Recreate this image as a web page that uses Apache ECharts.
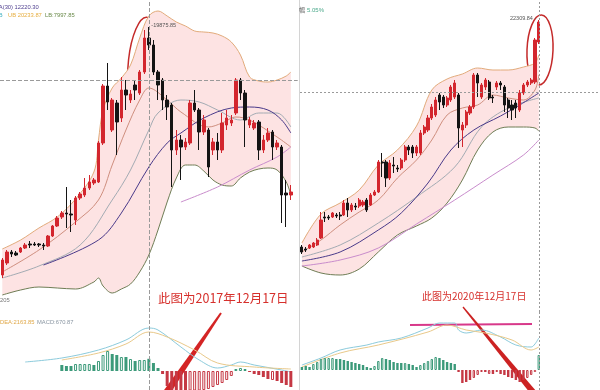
<!DOCTYPE html>
<html><head><meta charset="utf-8">
<script src="https://cdn.jsdelivr.net/npm/echarts@6/dist/echarts.min.js"></script>
<style>html,body{margin:0;padding:0;background:#fff}#c{width:600px;height:390px}</style>
</head><body><div id="c"></div>
<script>
// ---------- LEFT PANEL (2017) : [open, close, low, high] ----------
const leftCandles = [
[5000,5900,4820,6020],[5720,6380,5600,6500],[6380,6260,6080,6500],[6320,6200,6140,6440],
[6380,6620,6320,6680],[6620,6800,6560,6920],[6860,6800,6620,7040],[6860,6800,6740,6980],
[6860,6800,6680,6920],[6800,6740,6500,6920],[6740,7340,6680,7400],[7340,7940,7280,8000],
[7940,8420,7880,8540],[8480,8720,8360,8840],[8720,8660,7820,10280],[8660,8600,7580,9500],
[8300,9620,8000,9740],[9620,9860,9500,9980],[9800,10220,9680,10820],[10220,10580,10100,11000],
[10520,10700,10400,10820],[10580,12920,10520,13040],[12920,16340,12800,16460],[16340,15380,14900,17720],
[13700,15500,13580,15620],[15320,14180,12200,15500],[14420,16100,14180,16880],[16100,15800,14900,16700],
[15500,15860,15320,16100],[16400,16100,15500,16700],[15920,17180,15800,17300],[17180,19220,17060,19700],
[19220,18800,18500,19880],[18800,17180,17000,19100],[17180,16400,15500,17300],[16700,15500,14900,16820],
[15500,15080,14300,15800],[15200,12500,10280,15320],[12500,13100,12200,13700],[13100,12680,10700,13400],
[12680,12980,12500,13220],[12920,15320,12800,15500],[15320,14900,14780,16100],[14900,13580,12500,15020],
[13580,14300,13400,14600],[13700,11480,10880,13820],[12500,12980,12200,13220],[12980,12500,11900,13520],
[12500,14120,12320,14720],[14000,14420,13700,14900],[14120,14300,13940,14600],[14720,16700,14600,16820],
[16700,15920,15500,16820],[15920,14300,12680,16100],[14000,14300,13820,14480],[13820,14120,13700,14300],
[14180,12500,11900,14300],[12500,13100,12320,13400],[13100,13520,12980,13820],[13580,12680,11900,13700],
[12680,12920,12500,13100],[12680,9800,8120,12800],[9920,9800,7880,10700],[9800,9980,9500,10400]
];
const leftBandIdx = [0,4,8,12,16,20,21,22,24,26,28,30,32,34,36,38,40,42,44,46,48,50,52,54,56,58,60,62,63];
const leftUpper = [6560,7100,7820,8480,9560,11180,13100,14900,16220,16820,17600,19220,20540,20840,20540,20180,19940,19640,19580,19520,19340,18980,18200,16880,16640,16580,16700,16940,17180];
const leftLower = [3800,4100,4280,4220,4160,4580,4820,4340,3920,4160,4460,5180,6200,7700,9380,10820,11600,11600,11240,10700,10400,10340,10820,11180,11360,11420,11300,10580,9800];
const leftTanIdx = [0,8,16,21,24,27,30,32,36,39,45,48,51,54,60,63];
const leftTan = [5180,6500,8180,9500,11600,13700,15500,16220,15500,14780,13880,14120,14480,14300,13280,12680];
const leftGrayIdx = [0,8,17,24,28,32,34,39,43,47,52,56,60,63];
const leftGray = [4820,5540,6800,9500,11300,13700,14720,15500,15380,14900,14300,14720,14720,13880];
const leftPurpleIdx = [9,21,26,32,36,39,44,50,54,58,61,63];
const leftPurple = [5600,7100,8720,11480,12920,13520,14420,15020,15080,14900,14300,13520];
const leftPinkIdx = [39,47,54,60,63];
const leftPink = [9380,10280,11300,12080,12680];
const leftHist = [0,0,0,0,0,0,0,0,0,0,0,0,0,
330,275,275,385,385,385,385,330,550,880,
1100,935,880,770,770,660,550,605,605,671,
440,165,-165,-825,-1210,-1320,-1320,-1210,-1210,-1155,
-1100,-1045,-990,-880,-770,-660,-495,-275,110,165,
110,-55,-165,-220,-330,-440,-495,-550,-660,-770,-880];
const leftHollow = [16,17,18,19,21,22,23,26,28,30,31,41,42,43,44,45,46,47,48,49,50,51,52,53,59];
const leftDifIdx = [5,13,21,27,32,34,39,43,47,50,52,55,61,63];
const leftDif = [495,715,1155,1705,2365,2255,1320,605,165,330,495,330,55,-55];
const leftDeaIdx = [13,21,27,32,36,42,47,55,63];
const leftDea = [605,990,1485,2145,1870,1155,440,220,110];
const leftPeakIndex = 32, leftPeakHigh = 19875.85, leftCrossPrice = 16700;

// ---------- RIGHT PANEL (2020) ----------
const rightCandles = [
[10950,10700,10600,11050],[10850,10800,10700,10950],[10900,11050,10850,11100],[10950,11150,10900,11200],
[11050,11300,11000,11400],[11400,12300,11350,12700],[12450,12400,12200,12700],[12450,12400,12300,12550],
[12450,12650,12400,12700],[12550,12500,12400,12650],[12550,12500,12300,12700],[12550,13150,12500,13300],
[13150,12800,12450,13400],[12800,13050,12700,13150],[13000,12950,12800,13150],[13000,13300,12900,13400],
[13050,13200,12950,13300],[13300,12800,12700,13400],[13050,13550,13000,13650],[13550,13700,13500,13800],
[13700,15200,13650,15300],[15200,15150,14450,15650],[15200,14400,13950,15300],[14400,15150,14300,15300],
[15050,15000,14650,15450],[14900,14850,14700,15050],[14900,15300,14800,15400],[15300,15950,15200,16050],
[15950,15800,15550,16050],[15950,15650,15400,16050],[15650,15950,15500,16050],[15650,16650,15550,16800],
[16650,16950,16550,17050],[16800,17400,16700,17550],[17400,17950,17300,18100],[17550,18300,17450,18450],
[18550,18200,17800,18650],[18450,18050,17900,18550],[18050,18400,17950,18500],[18300,18950,18200,19050],
[18450,19150,18350,19300],[18550,16900,15900,18650],[16800,17050,15950,17200],[17050,17700,16900,17800],
[17650,17950,17550,18050],[17950,19550,17850,19650],[19550,19150,18450,19650],[18450,19050,18350,19150],
[18950,19300,18800,19400],[19200,18400,18300,19300],[18450,18400,18150,18550],[18950,19150,18800,19250],
[19150,19050,18800,19250],[18950,18050,17700,19050],[18300,17900,17400,18400],[18050,17800,17300,18300],
[18150,17900,17400,18300],[17800,18650,17700,18800],[18650,19050,18550,19150],[19050,19200,18950,19300],
[19150,19300,19050,19400],[19200,21300,19100,21400],[21200,22200,21100,22300]
];
const rightBandIdx = [0,5,10,15,20,25,30,34,38,42,46,50,54,58,61,62];
const rightUpper = [11150,12600,13150,13800,15050,15800,17000,18800,19350,19600,19900,19800,19800,19950,20150,20550];
const rightLower = [10000,9650,9550,9850,10700,11550,12000,12400,13150,14300,15800,16700,16950,16950,16900,16750];
const rightTanIdx = [0,5,10,15,20,25,30,34,38,42,46,50,54,58,61,62];
const rightTan = [10700,11300,12050,12700,13300,14400,15300,16300,17550,17900,18050,18550,18400,18300,18800,19550];
const rightGrayIdx = [0,10,20,30,40,47,54,62];
const rightGray = [10450,11050,12150,13450,14950,16950,17900,18400];
const rightPurpleIdx = [0,10,20,26,33,39,45,52,57,62];
const rightPurple = [10250,10700,11800,12650,14150,15800,16800,17500,18050,18650];
const rightPinkIdx = [0,10,20,30,40,50,58,62];
const rightPink = [10000,10300,10900,12100,13300,14550,15550,16300];
const rightHist = [150,200,150,300,400,550,600,600,600,550,
550,500,450,400,350,300,250,150,100,200,
450,600,550,500,400,350,350,350,300,250,
150,250,350,450,550,650,600,500,400,350,
300,-100,-650,-600,-500,-400,-250,-100,-100,-200,
-200,-100,-200,-250,-350,-400,-500,-600,-500,-400,
-250,-100,750];
const rightHollow = [3,4,5,6,7,8,19,20,21,27,31,32,33,34,35,45,46,47,49,51,59,60,61,62];
const rightDifIdx = [0,5,10,17,20,26,33,36,40,41,43,47,52,56,60,61,62];
const rightDif = [250,600,1000,1250,1400,1600,2100,2350,2350,2000,1850,2000,1650,1250,1150,1300,1600];
const rightDeaIdx = [0,10,20,33,38,43,48,55,60,62];
const rightDea = [150,850,1250,1900,2250,2000,1850,1500,1000,1150];
const rightPeakIndex = 62, rightPeakHigh = 22309.84, rightCrossPrice = 18700;

// ---------- build ----------
const leftCats = leftCandles.map((_, i) => 'L' + i).concat(['']);
const rightCats = rightCandles.map((_, i) => 'R' + i);
for (let k = 0; k < 15; k++) rightCats.push('');

const pairs = (idx, vals) => idx.map((x, k) => [x, vals[k]]);
const GREEN = '#3c9a7a', RED = '#c53844';
function hist(vals, hollow) {
  return vals.map((v, i) => {
    const c = v >= 0 ? GREEN : RED;
    return { value: v, itemStyle: hollow.includes(i) ? { color: '#fff', borderColor: c, borderWidth: 1 } : { color: c } };
  });
}
function line(xi, data, color, z, w) {
  return { type: 'line', xAxisIndex: xi, yAxisIndex: xi, data, symbol: 'none', smooth: 0.35,
    lineStyle: { color, width: w || 1 }, z: z || 2, silent: true };
}
function bandSeries(xi, idx, up, lo, stackName) {
  return [
    { type: 'line', xAxisIndex: xi, yAxisIndex: xi, data: pairs(idx, lo), stack: stackName, symbol: 'none',
      smooth: 0.35, lineStyle: { opacity: 0 }, z: 1, silent: true },
    { type: 'line', xAxisIndex: xi, yAxisIndex: xi, data: pairs(idx, up.map((v, k) => v - lo[k])), stack: stackName,
      symbol: 'none', smooth: 0.35, lineStyle: { opacity: 0 }, areaStyle: { color: '#fde3e3', opacity: 1 }, z: 1, silent: true },
    line(xi, pairs(idx, up), '#e2ab7b', 2),
    line(xi, pairs(idx, lo), '#6f7d55', 2)
  ];
}
const candleStyle = { color: '#d3262e', color0: '#141414', borderColor: '#d3262e', borderColor0: '#141414', borderWidth: 1 };
const dash = { type: 'dashed', color: '#9a9a9a', width: 1 };
const tiny = (t, x, y, fill, size) => ({ type: 'text', x, y, silent: true,
  style: { text: t, fill, font: (size || 5.8) + 'px "Liberation Sans", Arial, sans-serif', verticalAlign: 'middle', textVerticalAlign: 'middle' } });

const hiddenX = (gi, data) => ({ type: 'category', gridIndex: gi, data, boundaryGap: true,
  axisLine: { show: false }, axisTick: { show: false }, axisLabel: { show: false }, splitLine: { show: false } });
const hiddenY = (gi, min, max) => ({ type: 'value', gridIndex: gi, min, max,
  axisLine: { show: false }, axisTick: { show: false }, axisLabel: { show: false }, splitLine: { show: false } });

const option = {
  animation: false,
  backgroundColor: '#fff',
  grid: [
    { left: 0, top: 0, width: 297.7, height: 312 },
    { left: 0, top: 312, width: 297.7, height: 78 },
    { left: 300, top: 0, width: 298, height: 312 },
    { left: 300, top: 312, width: 298, height: 78 }
  ],
  xAxis: [hiddenX(0, leftCats), hiddenX(1, leftCats), hiddenX(2, rightCats), hiddenX(3, rightCats)],
  yAxis: [hiddenY(0, 2780, 21500), hiddenY(1, -1045, 3245), hiddenY(2, 7700, 23300), hiddenY(3, -1000, 2900)],
  series: [
    ...bandSeries(0, leftBandIdx, leftUpper, leftLower, 'lb'),
    line(0, pairs(leftTanIdx, leftTan), '#cf8f7f'),
    line(0, pairs(leftGrayIdx, leftGray), '#a3abb3'),
    line(0, pairs(leftPurpleIdx, leftPurple), '#4a3a8a'),
    line(0, pairs(leftPinkIdx, leftPink), '#c98ccc'),
    { type: 'candlestick', xAxisIndex: 0, yAxisIndex: 0, data: leftCandles, barWidth: 3, itemStyle: candleStyle, z: 3, silent: true,
      markLine: { symbol: 'none', silent: true, label: { show: false }, lineStyle: dash,
        data: [{ xAxis: leftPeakIndex }, { yAxis: leftCrossPrice }] },
      markPoint: { symbol: 'circle', symbolSize: 1, itemStyle: { color: 'rgba(0,0,0,0)' }, silent: true,
        data: [{ coord: [leftPeakIndex, leftPeakHigh], label: { show: true, position: 'right', distance: 2, offset: [0, -2],
          formatter: '-' + leftPeakHigh.toFixed(2), fontSize: 5.5, color: '#555', fontFamily: 'Liberation Sans' } }] } },
    { type: 'bar', xAxisIndex: 1, yAxisIndex: 1, data: hist(leftHist, leftHollow), barWidth: 3, z: 3, silent: true,
      markLine: { symbol: 'none', silent: true, label: { show: false }, lineStyle: dash, data: [{ xAxis: leftPeakIndex }] } },
    line(1, pairs(leftDifIdx, leftDif), '#8ccbdc'),
    line(1, pairs(leftDeaIdx, leftDea), '#e9c98a'),

    ...bandSeries(2, rightBandIdx, rightUpper, rightLower, 'rb'),
    line(2, pairs(rightTanIdx, rightTan), '#cf8f7f'),
    line(2, pairs(rightGrayIdx, rightGray), '#a3abb3'),
    line(2, pairs(rightPurpleIdx, rightPurple), '#4a3a8a'),
    line(2, pairs(rightPinkIdx, rightPink), '#c98ccc'),
    { type: 'candlestick', xAxisIndex: 2, yAxisIndex: 2, data: rightCandles, barWidth: 2.6, itemStyle: candleStyle, z: 3, silent: true,
      markLine: { symbol: 'none', silent: true, label: { show: false }, lineStyle: { type: [2, 2], color: '#9a9a9a', width: 1 },
        data: [{ xAxis: rightPeakIndex }, { yAxis: rightCrossPrice }] },
      markPoint: { symbol: 'circle', symbolSize: 1, itemStyle: { color: 'rgba(0,0,0,0)' }, silent: true,
        data: [{ coord: [rightPeakIndex, rightPeakHigh], label: { show: true, position: 'left', distance: 2, offset: [0, -1],
          formatter: rightPeakHigh.toFixed(2) + ' -', fontSize: 5.5, color: '#555', fontFamily: 'Liberation Sans' } }] } },
    { type: 'bar', xAxisIndex: 3, yAxisIndex: 3, data: hist(rightHist, rightHollow), barWidth: 2.4, z: 3, silent: true,
      markLine: { symbol: 'none', silent: true, label: { show: false }, lineStyle: { type: [2, 2], color: '#9a9a9a', width: 1 },
        data: [{ xAxis: rightPeakIndex }] } },
    line(3, pairs(rightDifIdx, rightDif), '#8ccbdc'),
    line(3, pairs(rightDeaIdx, rightDea), '#e9c98a')
  ],
  graphic: [
    { type: 'line', silent: true, shape: { x1: 299.5, y1: 0, x2: 299.5, y2: 390 }, style: { stroke: '#d4d4d4', lineWidth: 1 } },
    tiny('MA(30) 12220.30', -6, 7, '#4f3f8f'),
    tiny('MB', -6, 15, '#3fb0c0'),
    tiny('UB 20233.87', 8, 15, '#e6ae40'),
    tiny('LB:7997.85', 45, 15, '#6a8a4a'),
    tiny('205', 0, 300, '#777'),
    tiny('DEA:2163.85', 0, 322, '#e0a848'),
    tiny('MACD:670.87', 37, 322, '#8a96a2'),
    { type: 'text', x: 299, y: 10, silent: true, style: { text: '幅', fill: '#555', font: '6px "Noto Sans CJK SC"', verticalAlign: 'middle' } },
    tiny('5.05%', 307, 10, '#4aa88a', 6),
    { type: 'ellipse', silent: true, origin: [142, 61], rotation: -0.11, shape: { cx: 142, cy: 61, rx: 13.5, ry: 44 },
      style: { fill: 'none', stroke: '#c42a2a', lineWidth: 1.5 } },
    { type: 'ellipse', silent: true, origin: [540, 50], rotation: -0.04, shape: { cx: 540, cy: 50, rx: 13, ry: 35 },
      style: { fill: 'none', stroke: '#c42a2a', lineWidth: 1.5 } },
    { type: 'line', silent: true, shape: { x1: 410, y1: 325, x2: 532, y2: 324 }, style: { stroke: '#d8388a', lineWidth: 2 } },
    { type: 'polygon', silent: true, shape: { points: [[220.2, 312.4], [221.8, 313.6], [169.9, 394], [164.1, 390]] },
      style: { fill: '#d42424' } },
    { type: 'polygon', silent: true, shape: { points: [[462.5, 307.4], [463.5, 306.6], [535.3, 390.1], [530.7, 393.9]] },
      style: { fill: '#cc2222' } },
    { type: 'text', x: 158, y: 298, silent: true,
      style: { text: '此图为2017年12月17日', fill: '#d6302c', font: '12.5px "Noto Sans CJK SC"', verticalAlign: 'middle' } },
    { type: 'text', x: 422, y: 296, silent: true,
      style: { text: '此图为2020年12月17日', fill: '#d6302c', font: '10px "Noto Sans CJK SC"', verticalAlign: 'middle' } }
  ]
};
const chart = echarts.init(document.getElementById('c'));
chart.setOption(option);
</script></body></html>
